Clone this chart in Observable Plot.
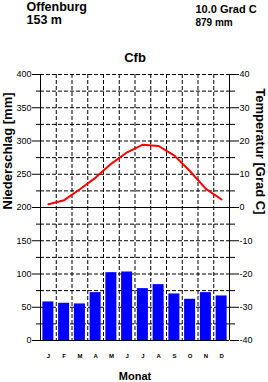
<!DOCTYPE html>
<html>
<head>
<meta charset="utf-8">
<script src="https://cdn.jsdelivr.net/npm/d3@7"></script>
<script src="https://cdn.jsdelivr.net/npm/@observablehq/plot@0.6"></script>
<style>
  html, body { margin: 0; padding: 0; background: white; }
  #chart { width: 268px; height: 382px; }
</style>
</head>
<body>
<div id="chart"></div>
<script>
// ---- data ----
const station = "Offenburg";
const elevation = "153 m";
const meanTemperature = "10.0 Grad C";
const annualPrecipitation = "879 mm";
const climateClass = "Cfb";
const months = ["J", "F", "M", "A", "M", "J", "J", "A", "S", "O", "N", "D"];
const precipitation = [58, 56, 55, 72, 102, 103, 78, 84, 70, 62, 72, 67];
const temperature = [1.0, 2.2, 5.5, 9.0, 13.2, 16.6, 18.9, 18.5, 15.6, 10.9, 5.6, 2.4];
const precipTicks = [0, 50, 100, 150, 200, 250, 300, 350, 400];
const tempTicks = [-40, -30, -20, -10, 0, 10, 20, 30, 40];
const xLabel = "Monat";
const yLabelLeft = "Niederschlag [mm]";
const yLabelRight = "Temperatur [Grad C]";

// temperature is drawn on the precipitation scale: -40..40 °C  <->  0..400 mm
const tempToY = t => (t + 40) * 5;

const data = months.map((m, i) => ({i, m, p: precipitation[i], t: temperature[i]}));
const gridY = d3.range(25, 401, 25).filter(v => v !== 200);
const minorLeft = d3.range(25, 400, 50);
const minorRight = d3.range(-35, 40, 10).map(tempToY);

const font = "'Liberation Sans', Arial, Helvetica, sans-serif";

const plot = Plot.plot({
  width: 268,
  height: 382,
  marginLeft: 40,
  marginRight: 39,
  marginTop: 74,
  marginBottom: 42,
  style: {fontFamily: font, background: "white", color: "black", overflow: "visible"},
  x: {type: "linear", domain: [0, 12]},
  y: {domain: [0, 400]},
  marks: [
    Plot.ruleY(gridY, {stroke: "black", strokeDasharray: "4,2"}),
    Plot.ruleX(d3.range(1, 12), {stroke: "black", strokeDasharray: "4,2"}),
    Plot.rectY(data, {x1: d => d.i + 0.15, x2: d => d.i + 0.85, y: "p", fill: "#0000ff"}),
    Plot.ruleY([0, 200], {stroke: "black"}),
    Plot.ruleX([0, 12], {stroke: "black"}),
    Plot.line(data, {x: d => d.i + 0.5, y: d => tempToY(d.t), stroke: "#ff0000", strokeWidth: 2}),
    Plot.axisY({anchor: "left", ticks: precipTicks, tickSize: 8, tickPadding: 1, fontSize: 9, label: null}),
    Plot.axisY({anchor: "left", ticks: minorLeft, tickSize: 4, tickFormat: () => "", label: null}),
    Plot.axisY({anchor: "right", ticks: tempTicks.map(tempToY), tickFormat: v => String(v / 5 - 40), tickSize: 9, tickPadding: 1, fontSize: 9, label: null}),
    Plot.axisY({anchor: "right", ticks: minorRight, tickSize: 5, tickFormat: () => "", label: null}),
    Plot.axisX({ticks: months.map((m, i) => i + 0.5), tickFormat: v => months[Math.floor(v)], tickSize: 0, tickPadding: 13, fontSize: 6, fontWeight: "bold", label: null}),
    // titles
    Plot.text([station], {frameAnchor: "top-left", dx: -14, dy: -63.7, textAnchor: "start", lineAnchor: "bottom", fontSize: 12.5, fontWeight: "bold", letterSpacing: 1.1}),
    Plot.text([elevation], {frameAnchor: "top-left", dx: -14, dy: -51, textAnchor: "start", lineAnchor: "bottom", fontSize: 12.5, fontWeight: "bold", letterSpacing: 0.3}),
    Plot.text([meanTemperature], {frameAnchor: "top-left", dx: 155, dy: -62, textAnchor: "start", lineAnchor: "bottom", fontSize: 11, fontWeight: "bold", letterSpacing: -0.3}),
    Plot.text([annualPrecipitation], {frameAnchor: "top-left", dx: 155, dy: -49, textAnchor: "start", lineAnchor: "bottom", fontSize: 10, fontWeight: "bold"}),
    Plot.text([climateClass], {frameAnchor: "top", dy: -13, lineAnchor: "bottom", fontSize: 13, fontWeight: "bold"}),
    Plot.text([xLabel], {frameAnchor: "bottom", dy: 39, lineAnchor: "bottom", fontSize: 11, fontWeight: "bold"}),
    Plot.text([yLabelLeft], {frameAnchor: "left", dx: -33, dy: 2, rotate: -90, fontSize: 13, fontWeight: "bold", letterSpacing: 1.2}),
    Plot.text([yLabelRight], {frameAnchor: "right", dx: 31, dy: 7, rotate: 90, fontSize: 13, fontWeight: "bold", letterSpacing: 0.6})
  ]
});
document.getElementById("chart").appendChild(plot);
</script>
</body>
</html>
